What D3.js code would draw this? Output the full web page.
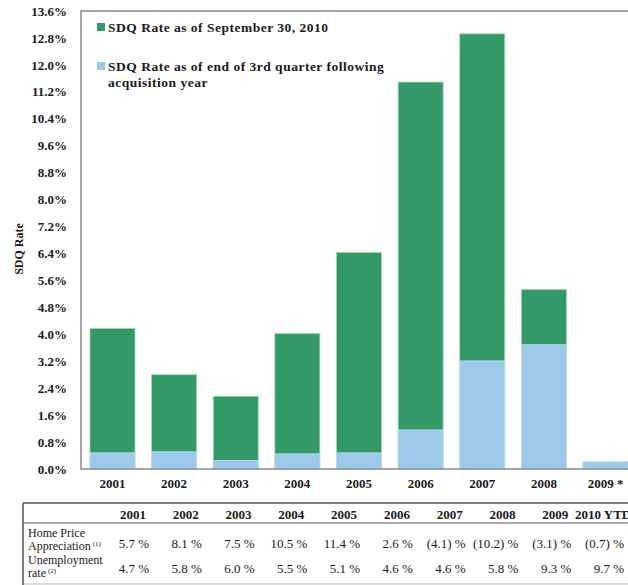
<!DOCTYPE html>
<html>
<head>
<meta charset="utf-8">
<script src="https://cdn.jsdelivr.net/npm/d3@7"></script>
<style>
  body { margin: 0; background: #fff; }
  text { font-family: "Liberation Serif", "DejaVu Serif", serif; fill: #1a1a1a; }
</style>
</head>
<body>
<script>
const canvWidth = 628, canvHeight = 585;

// chart data
const years = ["2001", "2002", "2003", "2004", "2005", "2006", "2007", "2008", "2009 *"];
const sdqCurrent = [4.17, 2.80, 2.16, 4.02, 6.43, 11.49, 12.92, 5.33, 0.21];
const sdqFollowing = [0.48, 0.51, 0.25, 0.45, 0.48, 1.16, 3.21, 3.69, 0.21];
const yTicks = [0, 0.8, 1.6, 2.4, 3.2, 4.0, 4.8, 5.6, 6.4, 7.2, 8.0, 8.8, 9.6, 10.4, 11.2, 12.0, 12.8, 13.6];
const legendLabels = [
  ["SDQ Rate as of September 30, 2010"],
  ["SDQ Rate as of end of 3rd quarter following", "acquisition year"]
];

// table data
const tableCols = ["2001", "2002", "2003", "2004", "2005", "2006", "2007", "2008", "2009", "2010 YTD"];
const homePrice = ["5.7 %", "8.1 %", "7.5 %", "10.5 %", "11.4 %", "2.6 %", "(4.1) %", "(10.2) %", "(3.1) %", "(0.7) %"];
const unemployment = ["4.7 %", "5.8 %", "6.0 %", "5.5 %", "5.1 %", "4.6 %", "4.6 %", "5.8 %", "9.3 %", "9.7 %"];
const rowLabels = [["Home Price", "Appreciation", "(1)"], ["Unemployment", "rate", "(2)"]];

const green = "#339966", blue = "#9cc8ea";
const plot = {left: 81, top: 11, right: 637, bottom: 469};

const svg = d3.select("body").append("svg")
    .attr("width", canvWidth)
    .attr("height", canvHeight);

const xScale = d3.scaleBand()
    .domain(years)
    .range([plot.left, plot.right])
    .paddingInner(0.27)
    .paddingOuter(0.146);

const yScale = d3.scaleLinear()
    .domain([0, 13.6])
    .range([plot.bottom, plot.top]);

// bars: green is the full rate, blue overlays from the baseline
const bars = svg.append("g");
bars.selectAll("rect.cur")
    .data(years)
    .enter().append("rect")
    .attr("class", "cur")
    .attr("x", d => xScale(d))
    .attr("y", (d, i) => yScale(sdqCurrent[i]))
    .attr("width", xScale.bandwidth())
    .attr("height", (d, i) => yScale(0) - yScale(sdqCurrent[i]))
    .style("fill", green)
    .style("stroke", "#9fd6ba")
    .style("stroke-width", 0.8);

bars.selectAll("rect.fol")
    .data(years)
    .enter().append("rect")
    .attr("class", "fol")
    .attr("x", d => xScale(d))
    .attr("y", (d, i) => yScale(sdqFollowing[i]))
    .attr("width", xScale.bandwidth())
    .attr("height", (d, i) => yScale(0) - yScale(sdqFollowing[i]))
    .style("fill", blue)
    .style("stroke", "#c4def2")
    .style("stroke-width", 0.8);

// plot frame
svg.append("path")
    .attr("d", `M${plot.right},${plot.top}H${plot.left}V${plot.bottom}H${plot.right}`)
    .attr("fill", "none")
    .attr("stroke", "#8a8a8a")
    .attr("stroke-width", 1.5);

// y axis
const yAxis = d3.axisLeft(yScale)
    .tickValues(yTicks)
    .tickSize(0)
    .tickPadding(14)
    .tickFormat(d => d.toFixed(1) + "%");
svg.append("g")
    .attr("transform", `translate(${plot.left},0)`)
    .call(yAxis)
    .call(g => g.select(".domain").remove())
    .selectAll("text")
    .attr("font-family", "Liberation Serif")
    .attr("font-size", "13px")
    .attr("font-weight", "bold")
    .attr("fill", "#1a1a1a");

svg.append("text")
    .attr("transform", `translate(23,${(plot.top + plot.bottom) / 2 + 9}) rotate(-90)`)
    .attr("text-anchor", "middle")
    .attr("font-size", "12px")
    .attr("font-weight", "bold")
    .text("SDQ Rate");

// x axis labels
const xAxis = d3.axisBottom(xScale).tickSize(0).tickPadding(10);
svg.append("g")
    .attr("transform", `translate(0,${plot.bottom})`)
    .call(xAxis)
    .call(g => g.select(".domain").remove())
    .selectAll("text")
    .attr("font-family", "Liberation Serif")
    .attr("font-size", "13px")
    .attr("font-weight", "bold")
    .attr("fill", "#1a1a1a");

// legend
const legend = svg.append("g").attr("transform", "translate(97,23)");
const legendItems = legend.selectAll("g")
    .data(legendLabels)
    .enter().append("g")
    .attr("transform", (d, i) => `translate(0,${i * 39})`);
legendItems.append("rect")
    .attr("width", 8).attr("height", 8)
    .style("fill", (d, i) => i === 0 ? green : blue);
legendItems.selectAll("text")
    .data(d => d)
    .enter().append("text")
    .attr("x", 11)
    .attr("y", (d, i) => 8.5 + i * 16)
    .attr("font-size", "13.5px")
    .attr("font-weight", "bold")
    .attr("letter-spacing", "0.5px")
    .text(d => d);

// table
const tbl = {left: 23, top: 503, headBottom: 523, bottom: 584};
const colScale = d3.scalePoint()
    .domain(tableCols)
    .range([149, 624]);

svg.append("line")
    .attr("x1", tbl.left).attr("x2", canvWidth)
    .attr("y1", tbl.top).attr("y2", tbl.top)
    .attr("stroke", "#555").attr("stroke-width", 1.5);
svg.append("line")
    .attr("x1", tbl.left).attr("x2", canvWidth)
    .attr("y1", tbl.headBottom).attr("y2", tbl.headBottom)
    .attr("stroke", "#555").attr("stroke-width", 1.2);
svg.append("line")
    .attr("x1", tbl.left).attr("x2", canvWidth)
    .attr("y1", tbl.bottom).attr("y2", tbl.bottom)
    .attr("stroke", "#bbb").attr("stroke-width", 1);
svg.append("line")
    .attr("x1", tbl.left).attr("x2", tbl.left)
    .attr("y1", tbl.top).attr("y2", canvHeight)
    .attr("stroke", "#555").attr("stroke-width", 1.5);

const lastCol = tableCols[tableCols.length - 1];
svg.append("g").selectAll("text")
    .data(tableCols)
    .enter().append("text")
    .attr("x", d => d === lastCol ? colScale(d) - 49 : colScale(d) - 3)
    .attr("y", 519)
    .attr("text-anchor", d => d === lastCol ? "start" : "end")
    .attr("font-size", "13px")
    .attr("font-weight", "bold")
    .text(d => d);

[homePrice, unemployment].forEach((row, r) => {
    const baseY = 548 + r * 25;
    svg.append("g").selectAll("text")
        .data(row)
        .enter().append("text")
        .attr("x", (d, i) => colScale(tableCols[i]))
        .attr("y", baseY)
        .attr("text-anchor", "end")
        .attr("font-size", "13px")
        .text(d => d);

    const lab = svg.append("text")
        .attr("x", 28)
        .attr("y", baseY - 11.5 + r * 2.5)
        .attr("font-size", "12px");
    lab.append("tspan").text(rowLabels[r][0]);
    lab.append("tspan").attr("x", 28).attr("dy", 13).text(rowLabels[r][1]);
    lab.append("tspan").attr("dx", 2).attr("dy", -4).attr("font-size", "7px").text(rowLabels[r][2]);
});
</script>
</body>
</html>
